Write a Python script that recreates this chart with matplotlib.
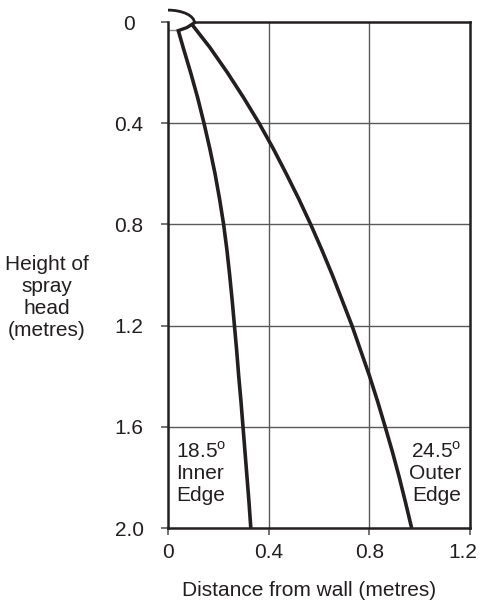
import matplotlib
matplotlib.use("Agg")
import matplotlib.pyplot as plt
import matplotlib.transforms as mtransforms
from matplotlib.patches import Arc

plt.rcParams['font.family'] = ['Liberation Sans', 'DejaVu Sans']
plt.rcParams['mathtext.fontset'] = 'custom'
plt.rcParams['mathtext.rm'] = 'Liberation Sans'

# height of spray head (m) vs distance from wall (m)
inner_height = [0.034, 0.1, 0.2, 0.3, 0.4, 0.5, 0.6, 0.7, 0.8, 0.9, 1.0, 1.1, 1.2,
                1.3, 1.4, 1.5, 1.6, 1.7, 1.8, 1.9, 2.0]
inner_dist = [0.041, 0.060, 0.090, 0.118, 0.143, 0.166, 0.187, 0.205, 0.221, 0.234, 0.245,
              0.255, 0.264, 0.273, 0.281, 0.290, 0.298, 0.306, 0.314, 0.322, 0.329]

outer_height = [0.012, 0.1, 0.2, 0.3, 0.4, 0.5, 0.6, 0.7, 0.8, 0.9, 1.0, 1.1, 1.2,
                1.3, 1.4, 1.5, 1.6, 1.7, 1.8, 1.9, 2.0]
outer_dist = [0.097, 0.166, 0.236, 0.301, 0.362, 0.418, 0.470, 0.520, 0.567, 0.611, 0.653,
              0.692, 0.731, 0.766, 0.801, 0.833, 0.863, 0.892, 0.919, 0.944, 0.968]

x_ticks = [0, 0.4, 0.8, 1.2]
x_labels = ['0', '0.4', '0.8', '1.2']
y_ticks = [0, 0.4, 0.8, 1.2, 1.6, 2.0]
y_labels = ['0', '0.4', '0.8', '1.2', '1.6', '2.0']

ink = '#231f20'
grid = '#5a5a5a'
fs = 15

fig = plt.figure(figsize=(4.81, 6.05), dpi=100)
ax = fig.add_axes([168 / 481, 1 - 528 / 605, 302 / 481, 506 / 605])
ax.set_xlim(0, 1.2)
ax.set_ylim(2.0, 0)

for v in [0.4, 0.8]:
    ax.axvline(v, color=grid, lw=1.0, zorder=1)
for v in [0.4, 0.8, 1.2, 1.6]:
    ax.axhline(v, color=grid, lw=1.0, zorder=1)

ax.plot(inner_dist, inner_height, color=ink, lw=2.6, solid_capstyle='butt',
        solid_joinstyle='round', zorder=3)
ax.plot(outer_dist, outer_height, color=ink, lw=2.6, solid_capstyle='butt',
        solid_joinstyle='round', zorder=3)

# spray head
ax.add_patch(Arc((0, 0.003), 0.21, 0.10, theta1=270, theta2=360,
                 color=ink, lw=2.0, clip_on=False, zorder=4))
ax.plot([0.105, 0.075, 0.041], [0.003, 0.022, 0.034], color=ink, lw=2.4, clip_on=False, zorder=4)
ax.plot([0, 0.041], [0.032, 0.032], color='#888888', lw=1.0, zorder=2)
ax.plot([0.105, 1.2], [0, 0], color=ink, lw=1.8, clip_on=False, zorder=4)

ax.spines['top'].set_visible(False)
for s in ['left', 'bottom', 'right']:
    ax.spines[s].set_linewidth(1.8)
    ax.spines[s].set_color(ink)

ax.set_xticks(x_ticks)
ax.set_xticklabels(x_labels)
ax.set_yticks(y_ticks)
ax.set_yticklabels(y_labels)
ax.tick_params(axis='both', direction='out', length=5, width=1.2, color=grid,
               labelsize=fs, labelcolor=ink)
ax.tick_params(axis='y', pad=23)
ax.tick_params(axis='x', pad=6)
for lab in ax.get_yticklabels():
    lab.set_ha('center')
# keep the last x label inside the figure
last = ax.get_xticklabels()[-1]
last.set_transform(last.get_transform() + mtransforms.ScaledTranslation(-5 / 72, 0, fig.dpi_scale_trans))

fig.text(309 / 481, 1 - 590 / 605, 'Distance from wall (metres)', ha='center', va='center',
         fontsize=fs, color=ink)
fig.text(47 / 481, 1 - 298 / 605, 'Height of\nspray\nhead\n(metres)', ha='center', va='center',
         fontsize=fs, color=ink, linespacing=1.2)

ax.text(0.033, 1.655, '18.5$^{\\rm o}$\nInner\nEdge', ha='left', va='top', fontsize=fs,
        color=ink, linespacing=1.2)
ax.text(1.165, 1.655, '24.5$^{\\rm o}$\nOuter\nEdge', ha='right', va='top', fontsize=fs,
        color=ink, linespacing=1.2)

fig.savefig('out.png', dpi=100)
